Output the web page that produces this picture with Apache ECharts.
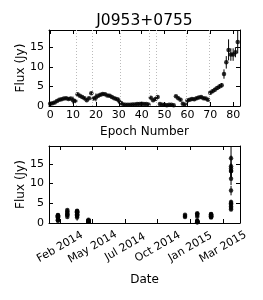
<!DOCTYPE html>
<html><head><meta charset="utf-8">
<script src="https://cdn.jsdelivr.net/npm/echarts@6/dist/echarts.min.js"></script>
<style>html,body{margin:0;padding:0;background:#fff}#c{width:263px;height:300px}</style>
</head><body><div id="c"></div>
<script>
const chartTitle = 'J0953+0755';
const sessionSizes = [12, 7, 12, 13, 3, 13, 10, 13];
const flux = [
  0.6, 0.7, 0.9, 1.3, 1.6, 1.7, 1.9, 2.0, 1.8, 1.9, 1.5, 1.3,
  3.0, 2.6, 2.3, 2.0, 1.5, 2.0, 3.3,
  1.9, 2.2, 2.6, 2.9, 3.1, 3.0, 2.7, 2.6, 2.3, 2.0, 1.8, 1.4,
  0.8, 0.4, 0.3, 0.3, 0.3, 0.4, 0.4, 0.5, 0.5, 0.6, 0.5, 0.5, 0.4,
  2.1, 1.5, 1.8,
  2.3, 0.5, 0.3, 0.3, 0.2, 0.3, 0.3, 0.2, 2.5, 2.0, 1.6, 0.6, 0.3,
  1.4, 1.6, 1.8, 1.7, 2.0, 2.2, 2.3, 2.0, 1.9, 1.6,
  3.4, 3.8, 4.2, 4.6, 5.0, 5.3, 8.2, 11.2, 14.4, 13.2, 13.2, 13.8, 16.4
];
const fluxErr = [
  0.3, 0.3, 0.3, 0.3, 0.3, 0.3, 0.3, 0.3, 0.3, 0.3, 0.9, 0.3,
  0.3, 0.3, 0.3, 0.3, 0.3, 0.3, 0.3,
  0.3, 1.0, 0.3, 0.3, 0.3, 0.3, 0.3, 0.3, 0.3, 0.3, 0.3, 0.8,
  0.3, 0.3, 0.2, 0.2, 0.2, 0.2, 0.2, 0.2, 0.2, 0.2, 0.2, 0.2, 0.2,
  0.3, 0.3, 0.3,
  0.3, 0.2, 0.2, 0.2, 0.2, 0.2, 0.2, 0.2, 0.3, 0.3, 0.3, 0.3, 0.2,
  0.3, 0.3, 0.3, 0.3, 0.3, 0.3, 0.3, 0.3, 0.3, 0.3,
  0.4, 0.4, 0.5, 0.5, 0.6, 0.6, 1.2, 1.6, 2.7, 1.6, 1.6, 1.3, 2.9
];
const sessionDates = ['2014-02-12', '2014-03-07', '2014-03-31', '2014-04-28',
                      '2014-12-21', '2015-01-20', '2015-02-23', '2015-04-13'];
const epochTicks = [0, 10, 20, 30, 40, 50, 60, 70, 80];
const fluxTicks = [0, 5, 10, 15];
const dateTicks = ['2014-02-17', '2014-05-08', '2014-07-27', '2014-10-15', '2015-01-03', '2015-03-24'];
const dateTickLabels = ['Feb 2014', 'May 2014', 'Jul 2014', 'Oct 2014', 'Jan 2015', 'Mar 2015'];
const epochRange = [-0.5, 83];
const fluxRange = [0, 19.5];
const dateRange = ['2014-01-21', '2015-05-05'];

const dayOf = s => Math.round((Date.parse(s) - Date.parse('2014-01-01')) / 86400000);
const sessionOf = [];
sessionSizes.forEach((n, s) => { for (let k = 0; k < n; k++) sessionOf.push(s); });
const boundaries = [];
let acc = 0;
sessionSizes.slice(0, -1).forEach(n => { acc += n; boundaries.push(acc - 0.5); });

const topPts = flux.map((v, i) => [i, v, fluxErr[i]]);
const botPts = flux.map((v, i) => [dayOf(sessionDates[sessionOf[i]]), v, fluxErr[i]]);
const dateTickDays = dateTicks.map(dayOf);

const FONT = 'DejaVu Sans';
const txt = {color: '#000', fontFamily: FONT, fontSize: 11};

function errItem(params, api) {
  const x = api.value(0), v = api.value(1), e = api.value(2);
  const cs = params.coordSys;
  const p1 = api.coord([x, v - e]), p2 = api.coord([x, v + e]);
  const top = Math.max(p2[1], cs.y), bot = Math.min(p1[1], cs.y + cs.height);
  return {type: 'line', shape: {x1: p1[0], y1: bot, x2: p1[0], y2: top},
          style: {stroke: '#000', lineWidth: 1}};
}

function xAx(grid, pos, range, ticks, extra) {
  return Object.assign({
    type: 'value', gridIndex: grid, position: pos, min: range[0], max: range[1],
    axisLine: {onZero: false, lineStyle: {color: '#000', width: 1}},
    axisTick: {inside: true, length: 4, customValues: ticks, lineStyle: {color: '#000'}},
    axisLabel: pos === 'top' ? {show: false} : Object.assign({customValues: ticks, margin: 4}, txt),
    splitLine: {show: false}
  }, extra || {});
}
function yAx(grid, pos) {
  return {
    type: 'value', gridIndex: grid, position: pos, min: fluxRange[0], max: fluxRange[1],
    axisLine: {onZero: false, lineStyle: {color: '#000', width: 1}},
    axisTick: {inside: true, length: 4, customValues: fluxTicks, lineStyle: {color: '#000'}},
    axisLabel: Object.assign({show: pos === 'left', customValues: fluxTicks, margin: 5}, txt),
    splitLine: {show: false}
  };
}

const nameStyle = {color: '#000', fontFamily: FONT, fontSize: 12};
const chart = echarts.init(document.getElementById('c'));
chart.setOption({
  animation: false,
  backgroundColor: '#fff',
  grid: [
    {left: 49, right: 23, top: 30, height: 76},
    {left: 49, right: 23, top: 146, height: 77}
  ],
  graphic: [
    {type: 'text', x: 144.5, y: 21,
     style: {text: chartTitle, align: 'center', verticalAlign: 'middle', fill: '#000', font: '15.5px "DejaVu Sans"'}},
    {type: 'text', x: 21, y: 68, rotation: Math.PI / 2,
     style: {text: 'Flux (Jy)', align: 'center', verticalAlign: 'middle', fill: '#000', font: '12px "DejaVu Sans"'}},
    {type: 'text', x: 21, y: 184.5, rotation: Math.PI / 2,
     style: {text: 'Flux (Jy)', align: 'center', verticalAlign: 'middle', fill: '#000', font: '12px "DejaVu Sans"'}}
  ],
  xAxis: [
    xAx(0, 'bottom', epochRange, epochTicks, {name: 'Epoch Number', nameLocation: 'middle', nameGap: 20, nameTextStyle: nameStyle}),
    xAx(0, 'top', epochRange, epochTicks),
    xAx(1, 'bottom', dateRange.map(dayOf), dateTickDays, {name: 'Date', nameLocation: 'middle', nameGap: 51, nameTextStyle: nameStyle}),
    xAx(1, 'top', dateRange.map(dayOf), dateTickDays)
  ],
  yAxis: [yAx(0, 'left'), yAx(0, 'right'), yAx(1, 'left'), yAx(1, 'right')],
  series: [
    {type: 'custom', xAxisIndex: 0, yAxisIndex: 0, renderItem: errItem, data: topPts, encode: {x: 0, y: 1}, silent: true,
     markLine: {silent: true, symbol: 'none', label: {show: false},
                lineStyle: {type: [1, 2], color: '#bbb', width: 1},
                data: boundaries.map(b => ({xAxis: b}))}},
    {type: 'scatter', xAxisIndex: 0, yAxisIndex: 0, data: topPts, symbol: 'circle', symbolSize: 4.5,
     itemStyle: {color: '#000'}, encode: {x: 0, y: 1}},
    {type: 'custom', xAxisIndex: 2, yAxisIndex: 2, renderItem: errItem, data: botPts, encode: {x: 0, y: 1}, silent: true},
    {type: 'scatter', xAxisIndex: 2, yAxisIndex: 2, data: botPts, symbol: 'circle', symbolSize: 4.5,
     itemStyle: {color: '#000'}, encode: {x: 0, y: 1}}
  ]
});
chart.setOption({xAxis: [{}, {}, {axisLabel: {rotate: 30, align: 'center', verticalAlign: 'middle', margin: 24,
  formatter: v => dateTickLabels[dateTickDays.indexOf(v)] || ''}}, {}]});
</script></body></html>
